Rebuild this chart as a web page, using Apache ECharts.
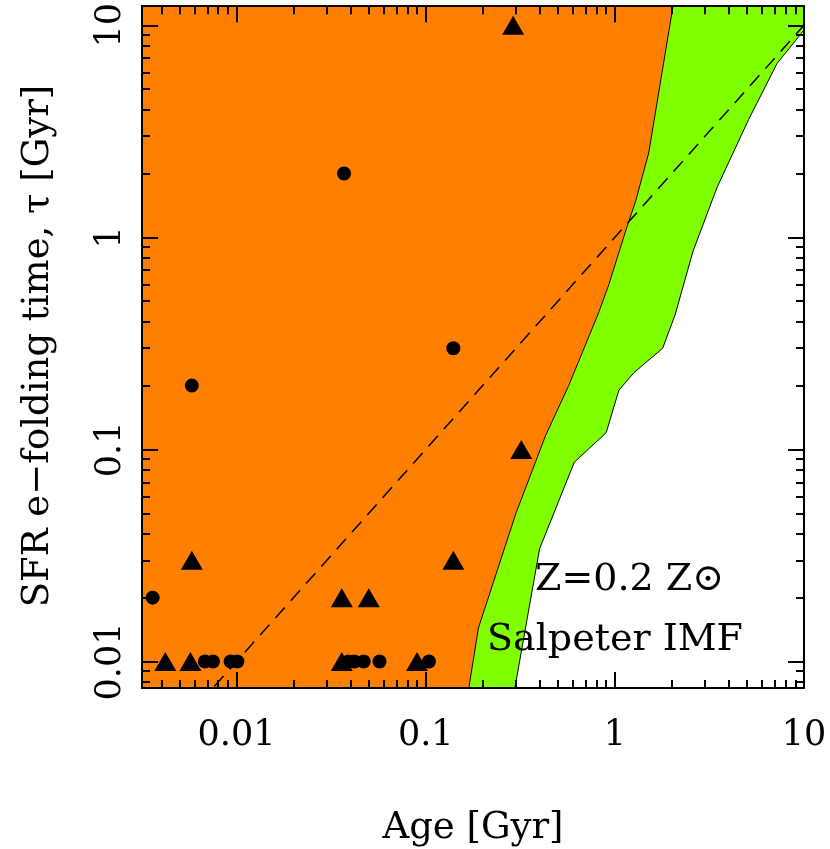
<!DOCTYPE html>
<html><head><meta charset="utf-8">
<script src="https://cdn.jsdelivr.net/npm/echarts@6/dist/echarts.min.js"></script>
<style>html,body{margin:0;padding:0;background:#fff}#c{width:830px;height:849px}</style>
</head><body><div id="c"></div>
<script>
// Data (ages in Gyr, tau in Gyr)
var circleList = [[0.0068,0.01],[0.0075,0.01],[0.0093,0.01],[0.0101,0.01],
  [0.039,0.01],[0.042,0.01],[0.047,0.01],[0.057,0.01],[0.104,0.01],
  [0.0036,0.02],[0.0058,0.2],[0.037,2],[0.14,0.3]];
var triangles = [[0.0042,0.01],[0.0057,0.01],[0.036,0.01],[0.09,0.01],
  [0.0058,0.03],[0.036,0.02],[0.05,0.02],[0.14,0.03],[0.29,10],[0.32,0.1]];
var orangeEdge = [[0.169,0.0075],[0.19,0.0144],[0.30,0.050],[0.43,0.116],[0.57,0.20],
  [0.82,0.44],[0.93,0.60],[1.14,1.07],[1.29,1.49],[1.51,2.5],[2.03,12.3]];
var greenEdge = [[0.296,0.0075],[0.40,0.034],[0.61,0.087],[0.90,0.12],[1.05,0.19],[1.26,0.23],
  [1.79,0.30],[2.08,0.43],[2.59,0.86],[3.47,1.72],[5.1,3.6],[7.2,6.6],[10,9.5],[10,12.3]];
var dashed = [[0.003,0.003],[10,10]];
var tickLabels = {'-2':'0.01','-1':'0.1','0':'1','1':'10'};

var L = Math.log10;
var XMIN = -2.5, XMAX = 1, YMIN = L(0.0075), YMAX = L(12.3);
function lg(a){return a.map(function(p){return [L(p[0]),L(p[1])];});}
function majors(lo,hi){var r=[];for(var n=Math.ceil(lo);n<=hi+1e-9;n++)r.push(n);return r;}
function minors(lo,hi){var r=[];for(var n=Math.floor(lo);n<=hi;n++)for(var k=2;k<=9;k++){var v=n+L(k);if(v>=lo&&v<=hi)r.push(v);}return r;}
var xMaj = majors(XMIN,XMAX), xMin = minors(XMIN,XMAX);
var yMaj = majors(YMIN,YMAX), yMin = minors(YMIN,YMAX);
function fmt(v){return tickLabels[String(Math.round(v))];}

var font = '"DejaVu Serif", "Liberation Serif", serif';
function ax(pos, vals, len, label, lo, hi, isY){
  return {type:'value', min:lo, max:hi, position:pos, z:20,
    axisLine:{show:true, onZero:false, lineStyle:{color:'#000',width:2}},
    splitLine:{show:false},
    axisTick:{show:true, inside:true, length:len, customValues:vals, lineStyle:{color:'#000',width:2}},
    axisLabel:{show:label, customValues:vals, formatter:fmt, fontFamily:font, fontSize:35, color:'#000',
      margin: isY?14:30, rotate: isY?90:0}
  };
}
var orangePoly = [[XMIN,YMIN]].concat(lg(orangeEdge)).concat([[XMIN,YMAX]]);
var greenPoly = lg(orangeEdge).concat(lg(greenEdge).reverse());

function polySeries(poly, color){
  return {type:'custom', xAxisIndex:0, yAxisIndex:0, clip:true, silent:true, z:1,
    data:[0],
    renderItem:function(params, api){
      var pts = poly.map(function(p){return api.coord(p);});
      return {type:'polygon', shape:{points:pts}, style:{fill:color, stroke:null}};
    }};
}

var chart = echarts.init(document.getElementById('c'));
chart.setOption({
  animation:false,
  grid:{left:142, right:26, top:5, bottom:161},
  xAxis:[ax('bottom',xMaj,16,true,XMIN,XMAX,false), ax('bottom',xMin,8,false,XMIN,XMAX,false),
         ax('top',xMaj,16,false,XMIN,XMAX,false), ax('top',xMin,8,false,XMIN,XMAX,false)],
  yAxis:[ax('left',yMaj,16,true,YMIN,YMAX,true), ax('left',yMin,8,false,YMIN,YMAX,true),
         ax('right',yMaj,16,false,YMIN,YMAX,true), ax('right',yMin,8,false,YMIN,YMAX,true)],
  series:[
    polySeries(orangePoly,'#ff8000'),
    polySeries(greenPoly,'#80ff00'),
    {type:'line', data:lg(orangeEdge), symbol:'none', lineStyle:{color:'#000',width:1}, z:2, silent:true},
    {type:'line', data:lg(greenEdge), symbol:'none', lineStyle:{color:'#000',width:1}, z:2, silent:true},
    {type:'line', data:lg(dashed), symbol:'none', clip:true, lineStyle:{color:'#000',width:1.5,type:[14,9]}, z:3, silent:true},
    {type:'scatter', data:lg(circleList), symbol:'circle', symbolSize:14, itemStyle:{color:'#000',opacity:1}, z:4, clip:false},
    {type:'scatter', data:lg(triangles), symbol:'triangle', symbolSize:[22,19], itemStyle:{color:'#000',opacity:1}, z:4, clip:false}
  ],
  graphic:[
    {type:'text', z:100, x:38, y:346, rotation:Math.PI/2, style:{text:'SFR e\u2212folding time, \u03c4 [Gyr]', font:'37px '+font, fill:'#000', align:'center', verticalAlign:'middle'}},
    {type:'text', z:100, x:473, y:828, style:{text:'Age [Gyr]', font:'37px '+font, fill:'#000', align:'center', verticalAlign:'middle'}},
    {type:'text', z:100, x:535, y:580, style:{text:'Z=0.2 Z\u2299', font:'38px '+font, fill:'#000', verticalAlign:'middle'}},
    {type:'text', z:100, x:487, y:640, style:{text:'Salpeter IMF', font:'38px '+font, fill:'#000', verticalAlign:'middle'}}
  ]
});
</script></body></html>
